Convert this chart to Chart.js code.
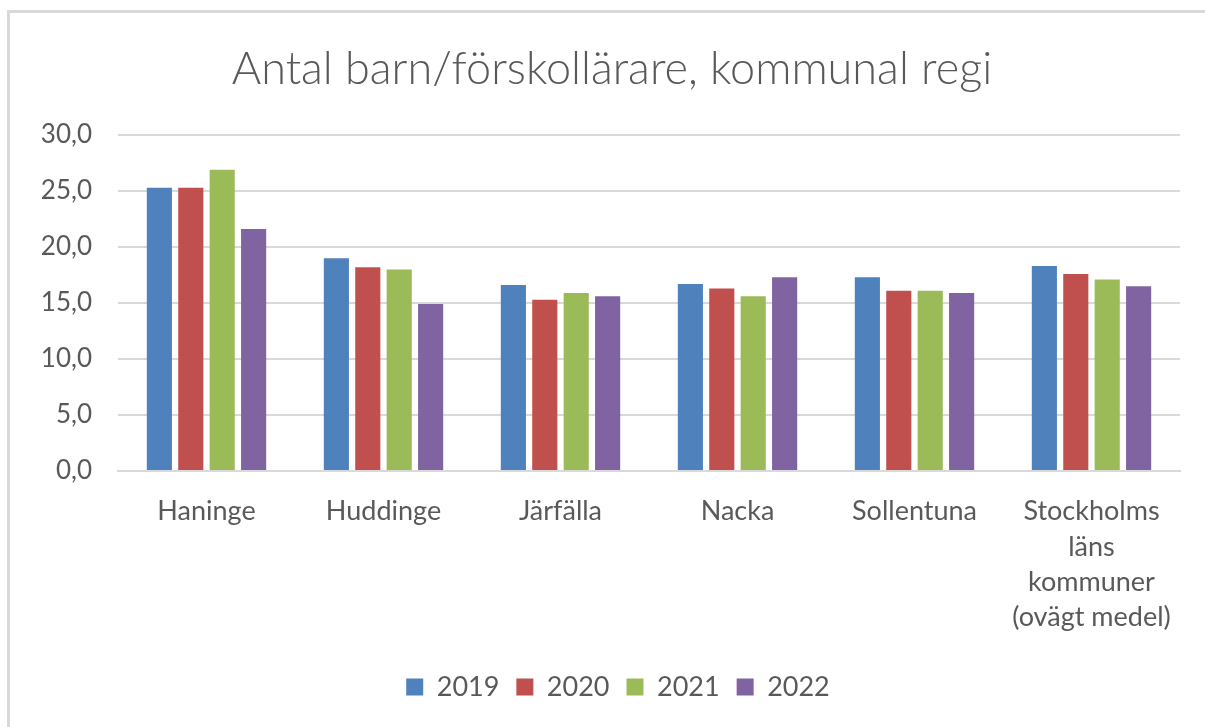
<!DOCTYPE html>
<html>
<head>
<meta charset="utf-8">
<script src="https://cdn.jsdelivr.net/npm/chart.js@4/dist/chart.umd.min.js"></script>
<style>
  html, body { margin: 0; padding: 0; background: #ffffff; }
  #wrap { position: relative; width: 1205px; height: 727px; overflow: hidden; }
  #frame { position: absolute; left: 7px; top: 10px; width: 1300px; height: 800px;
           border-top: 3px solid #d9d9d9; border-left: 3px solid #d9d9d9; box-sizing: border-box; }
  canvas { position: absolute; left: 0; top: 0; }
</style>
</head>
<body>
<div id="wrap">
  <div id="frame"></div>
  <canvas id="c" width="1205" height="727"></canvas>
</div>
<script>
const categories = [
  'Haninge',
  'Huddinge',
  'Järfälla',
  'Nacka',
  'Sollentuna',
  ['Stockholms', 'läns', 'kommuner', '(ovägt medel)']
];
const years = ['2019', '2020', '2021', '2022'];
const values2019 = [25.3, 19.0, 16.6, 16.7, 17.3, 18.3];
const values2020 = [25.3, 18.2, 15.3, 16.3, 16.1, 17.6];
const values2021 = [26.9, 18.0, 15.9, 15.6, 16.1, 17.1];
const values2022 = [21.6, 14.9, 15.6, 17.3, 15.9, 16.5];
const yTicks = [0, 5, 10, 15, 20, 25, 30];
const colors = ['#4f81bd', '#c0504d', '#9bbb59', '#8064a2'];

const seriesValues = [values2019, values2020, values2021, values2022];
const FONT = 'Lato, "Open Sans", sans-serif';
const TXT = '#595959';

// shift title and legend horizontally to match the reference centring
const shiftPlugin = {
  id: 'shiftBlocks',
  afterLayout(chart) {
    if (chart.legend) { chart.legend.left += 18; chart.legend.right += 18; }
    if (chart.titleBlock) { chart.titleBlock.left += 12; chart.titleBlock.right += 12; }
  }
};

new Chart(document.getElementById('c'), {
  type: 'bar',
  data: {
    labels: categories,
    datasets: years.map((y, i) => ({
      label: y,
      data: seriesValues[i],
      backgroundColor: colors[i],
      borderWidth: 0,
      categoryPercentage: 0.71,
      barPercentage: 0.8
    }))
  },
  plugins: [shiftPlugin],
  options: {
    responsive: false,
    animation: false,
    layout: { padding: { left: 20, right: 25, top: 0, bottom: 16.5 } },
    plugins: {
      tooltip: { enabled: false },
      title: {
        display: true,
        text: 'Antal barn/förskollärare, kommunal regi',
        color: TXT,
        font: { family: FONT, size: 45, weight: '300', lineHeight: 1.2 },
        padding: { top: 42, bottom: 39 }
      },
      legend: {
        position: 'bottom',
        labels: {
          color: TXT,
          font: { family: FONT, size: 27 },
          boxWidth: 17,
          boxHeight: 17,
          padding: 17
        }
      }
    },
    scales: {
      x: {
        grid: { display: false },
        border: { display: true, color: '#d9d9d9', width: 2 },
        ticks: {
          color: TXT,
          font: { family: FONT, size: 27, lineHeight: 1.31 },
          padding: 15,
          maxRotation: 0,
          autoSkip: false
        },
        afterFit: (s) => { s.height = 185.5; }
      },
      y: {
        min: 0,
        max: 30,
        afterBuildTicks: (s) => { s.ticks = yTicks.map(v => ({ value: v })); },
        grid: { color: '#d9d9d9', lineWidth: 2, drawTicks: false },
        border: { display: false },
        ticks: {
          color: TXT,
          font: { family: FONT, size: 26 },
          padding: 26,
          callback: (v) => Number(v).toFixed(1).replace('.', ',')
        },
        afterFit: (s) => { s.width = 98; }
      }
    }
  }
});
</script>
</body>
</html>
